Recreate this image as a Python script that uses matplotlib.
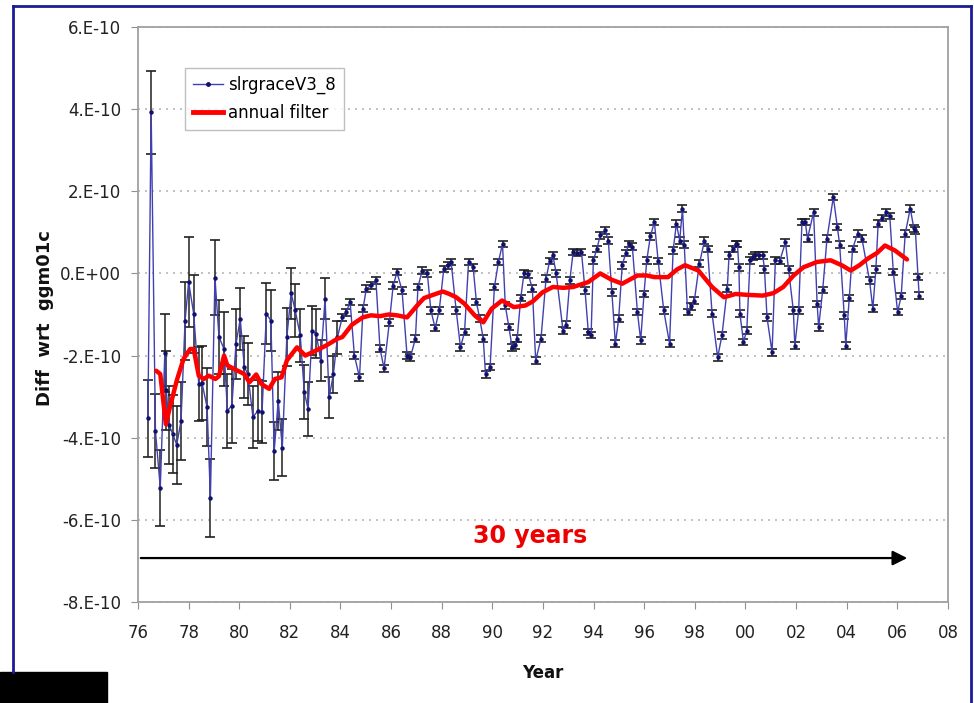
import numpy as np
import matplotlib
matplotlib.use('Agg')
import matplotlib.pyplot as plt
from matplotlib.lines import Line2D
from matplotlib.patches import Rectangle

# slrgraceV3_8 series, year (19xx) and value in units of 1E-10
grace_year = [76.39, 76.52, 76.69, 76.88, 77.06, 77.12, 77.22, 77.37, 77.53, 77.70,
              77.86, 78.00, 78.20, 78.40, 78.53, 78.73, 78.86, 79.04, 79.20, 79.40,
              79.53, 79.71, 79.87, 80.04, 80.20, 80.34, 80.54, 80.74, 80.90, 81.07,
              81.25, 81.38, 81.54, 81.70, 81.88, 82.05, 82.21, 82.41, 82.57, 82.72,
              82.88, 83.04, 83.22, 83.39, 83.55, 83.72, 83.88,
              84.07, 84.22, 84.38, 84.55, 84.75, 84.89, 85.02, 85.22, 85.40, 85.56,
              85.72, 85.93, 86.08, 86.23, 86.43, 86.63, 86.76, 86.96, 87.06, 87.23,
              87.43, 87.57, 87.74, 87.90, 88.08, 88.23, 88.37, 88.57, 88.74, 88.90,
              89.06, 89.24, 89.37, 89.50, 89.64, 89.73, 89.91, 90.08, 90.24, 90.40,
              90.51, 90.65, 90.78, 90.88, 90.98, 91.12, 91.25, 91.42, 91.58, 91.71,
              91.92, 92.12, 92.26, 92.39, 92.52, 92.79, 92.92, 93.06, 93.19, 93.35,
              93.52, 93.66, 93.79, 93.90, 93.99, 94.13, 94.26, 94.46, 94.58, 94.72,
              94.86, 94.99, 95.13, 95.27, 95.40, 95.53, 95.73, 95.86, 95.99, 96.10,
              96.24, 96.40, 96.55, 96.77, 97.00, 97.14, 97.27, 97.40, 97.51, 97.58,
              97.71, 97.85, 97.98, 98.18, 98.38, 98.50, 98.68, 98.90, 99.07, 99.28,
              99.35, 99.50, 99.61, 99.68, 99.74, 99.78, 99.92, 100.05, 100.18, 100.30,
              100.39, 100.55, 100.68, 100.75, 100.85, 101.05, 101.18, 101.35, 101.58, 101.70,
              101.89, 101.95, 102.10, 102.23, 102.36, 102.45, 102.69, 102.83, 102.89, 103.05,
              103.22, 103.47, 103.63, 103.72, 103.90, 103.96, 104.10, 104.23, 104.43, 104.60,
              104.90, 105.03, 105.15, 105.24, 105.40, 105.57, 105.70, 105.84, 106.01, 106.15,
              106.31, 106.51, 106.65, 106.71, 106.82, 106.86]
grace_val = [-3.53, 3.92, -3.84, -5.22, -1.93, -2.85, -3.68, -3.91, -4.17, -3.59,
             -1.15, -0.21, -0.98, -2.69, -2.67, -3.26, -5.46, -0.10, -1.55, -1.84,
             -3.34, -3.22, -1.72, -1.11, -2.28, -2.45, -3.50, -3.34, -3.38, -0.98,
             -1.15, -4.32, -3.10, -4.24, -1.55, -0.48, -0.90, -1.51, -2.89, -3.30,
             -1.39, -1.47, -2.12, -0.62, -3.02, -2.45, -1.55,
             -1.07, -0.95, -0.70, -2.00, -2.53, -0.86, -0.37, -0.29, -0.17, -1.83,
             -2.31, -1.19, -0.30, 0.03, -0.41, -2.00, -2.04, -1.59, -0.33, 0.07,
             0.00, -0.90, -1.33, -0.90, 0.11, 0.20, 0.28, -0.90, -1.80, -1.43,
             0.28, 0.15, -0.70, -1.10, -1.59, -2.46, -2.28, -0.33, 0.28, 0.72,
             -0.78, -1.30, -1.80, -1.75, -1.59, -0.60, 0.00, -0.02, -0.37, -2.12,
             -1.59, -0.13, 0.30, 0.44, 0.00, -1.39, -1.25, -0.17, 0.52, 0.50,
             0.52, -0.41, -1.43, -1.50, 0.32, 0.60, 0.93, 1.05, 0.80, -0.46,
             -1.71, -1.10, 0.20, 0.50, 0.72, 0.65, -0.94, -1.63, -0.50, 0.32,
             0.90, 1.25, 0.30, -0.90, -1.71, 0.56, 1.21, 0.80, 1.58, 0.70,
             -0.94, -0.80, -0.66, 0.24, 0.80, 0.60, -0.98, -2.04, -1.51, -0.37,
             0.44, 0.60, 0.72, 0.72, 0.15, -0.98, -1.67, -1.39, 0.32, 0.40,
             0.44, 0.44, 0.44, 0.10, -1.07, -1.92, 0.32, 0.30, 0.76, 0.10,
             -0.90, -1.76, -0.90, 1.25, 1.25, 0.85, 1.49, -0.74, -1.31, -0.40,
             0.85, 1.86, 1.13, 0.70, -1.02, -1.76, -0.60, 0.60, 0.97, 0.85,
             -0.17, -0.86, 0.10, 1.21, 1.35, 1.49, 1.40, 0.03, -0.94, -0.55,
             0.97, 1.58, 1.10, 1.05, -0.09, -0.54]
# error bars: large for the early (pre-1984) points, small afterwards
early_err = [0.94, 1.00, 0.90, 0.92, 0.95, 0.95, 0.95, 0.95, 0.95, 0.95,
             0.95, 1.10, 0.95, 0.91, 0.91, 0.95, 0.95, 0.92, 0.90, 0.90,
             0.90, 0.90, 0.85, 0.75, 0.75, 0.75, 0.75, 0.75, 0.75, 0.75,
             0.75, 0.71, 0.71, 0.70, 0.70, 0.62, 0.65, 0.65, 0.65, 0.65,
             0.60, 0.60, 0.50, 0.50, 0.50, 0.45, 0.40]
late_err = 0.08

# annual filter
filt_year = [76.72, 76.88, 77.10, 77.26, 77.53, 77.80, 78.06, 78.20, 78.40, 78.60,
             78.80, 79.06, 79.20, 79.40, 79.53, 79.94, 80.20, 80.40, 80.67, 80.87,
             81.18, 81.41, 81.67, 81.88, 82.28, 82.61, 83.02, 83.42, 83.88, 84.07,
             84.45, 84.88, 85.20, 85.56, 85.90, 86.23, 86.63, 87.03, 87.30, 87.57,
             88.04, 88.30, 88.57, 88.90, 89.30, 89.64, 89.97, 90.38, 90.85, 91.31,
             91.60, 91.98, 92.39, 92.80, 93.19, 93.79, 94.26, 94.70, 95.13, 95.73,
             96.10, 96.40, 96.94, 97.30, 97.61, 98.14, 98.68, 99.15, 99.61, 100.02,
             100.68, 101.10, 101.49, 101.90, 102.29, 102.83, 103.36, 103.80, 104.16, 104.50,
             104.83, 105.20, 105.51, 105.90, 106.38]
filt_val = [-2.37, -2.45, -3.67, -3.26, -2.61, -2.08, -1.84, -1.84, -2.49, -2.57,
            -2.49, -2.57, -2.50, -2.00, -2.24, -2.37, -2.45, -2.65, -2.46, -2.69,
            -2.81, -2.57, -2.53, -2.12, -1.80, -2.00, -1.88, -1.76, -1.59, -1.55,
            -1.25, -1.07, -1.02, -1.04, -1.00, -1.02, -1.07, -0.78, -0.60, -0.54,
            -0.44, -0.50, -0.58, -0.74, -1.02, -1.19, -0.86, -0.66, -0.82, -0.78,
            -0.68, -0.46, -0.33, -0.35, -0.33, -0.21, 0.00, -0.15, -0.25, -0.05,
            -0.05, -0.09, -0.09, 0.10, 0.20, 0.07, -0.33, -0.58, -0.50, -0.52,
            -0.54, -0.48, -0.33, -0.05, 0.15, 0.28, 0.32, 0.20, 0.07, 0.20,
            0.36, 0.50, 0.68, 0.56, 0.34]

xticks = list(range(76, 110, 2))
xticklabels = ["%02d" % (t % 100) for t in xticks]
yticks = [6, 4, 2, 0, -2, -4, -6, -8]
yticklabels = ["6.E-10", "4.E-10", "2.E-10", "0.E+00", "-2.E-10", "-4.E-10", "-6.E-10", "-8.E-10"]

scale = 1e-10
gy = np.array(grace_year)
gv = np.array(grace_val) * scale
gerr = np.array(early_err + [late_err] * (len(grace_val) - len(early_err))) * scale
fy = np.array(filt_year)
fv = np.array(filt_val) * scale

fig = plt.figure(figsize=(9.74, 7.03), dpi=100)
ax = fig.add_axes([138 / 974, 1 - 602 / 703, 810 / 974, 575 / 703])

ax.errorbar(gy, gv, yerr=gerr, fmt='-', color='#4040b0', lw=1, marker='o', ms=2.2,
            mfc='#101070', mec='#101070', ecolor='#202020', elinewidth=1.1,
            capsize=3.5, capthick=1.2, zorder=2)
ax.plot(fy, fv, color='#ff0000', lw=3.2, zorder=3, solid_capstyle='round')

ax.set_xlim(76, 108)
ax.set_ylim(-8 * scale, 6 * scale)
ax.set_xticks(xticks)
ax.set_xticklabels(xticklabels)
ax.set_yticks([v * scale for v in yticks])
ax.set_yticklabels(yticklabels)
ax.tick_params(direction='out', length=5, color='#909090', labelsize=12, labelcolor='#222222')
ax.tick_params(axis='x', pad=11)
ax.tick_params(axis='y', pad=7)
ax.yaxis.grid(True, color='#b8b8b8', lw=1.2, linestyle=(0, (1.2, 3)))
ax.set_axisbelow(True)
for s in ax.spines.values():
    s.set_color('#a0a0a0')
    s.set_linewidth(1.3)

# 30 years arrow
ax.annotate('', xy=(106.5, -6.93 * scale), xytext=(76, -6.93 * scale),
            arrowprops=dict(arrowstyle='-|>', color='black', lw=1.6, mutation_scale=22))
ax.text(91.5, -6.39 * scale, '30 years', color='#ee0000', fontsize=17,
        fontweight='bold', ha='center', va='center')

handles = [Line2D([], [], color='#4040b0', lw=1, marker='o', ms=2.5, mfc='#101070', mec='#101070'),
           Line2D([], [], color='#ff0000', lw=3.5)]
leg = ax.legend(handles, ['slrgraceV3_8', 'annual filter'], loc='upper left',
                bbox_to_anchor=(0.058, 0.929), fontsize=12, fancybox=False,
                edgecolor='#b0b0b0', handlelength=1.8, handletextpad=0.3,
                borderpad=0.5, labelspacing=0.55, borderaxespad=0)
leg.get_frame().set_linewidth(1)

fig.text(45 / 974, 1 - 318 / 703, 'Diff  wrt  ggm01c', rotation=90, ha='center', va='center',
         fontsize=13, fontweight='bold', color='#111111')
fig.text(543 / 974, 1 - 673 / 703, 'Year', ha='center', va='center', fontsize=12,
         fontweight='bold', color='#111111')

# slide frame
border = '#1c1c96'
fig.add_artist(Line2D([13 / 974, 971 / 974], [1 - 6 / 703, 1 - 6 / 703], color=border, lw=2))
fig.add_artist(Line2D([13 / 974, 13 / 974], [1 - 672 / 703, 1 - 6 / 703], color=border, lw=2))
fig.add_artist(Line2D([971 / 974, 971 / 974], [0, 1 - 6 / 703], color=border, lw=2))
fig.add_artist(Rectangle((0, 0), 107 / 974, 31 / 703, color='black', transform=fig.transFigure))

fig.savefig('out.png', dpi=100)
